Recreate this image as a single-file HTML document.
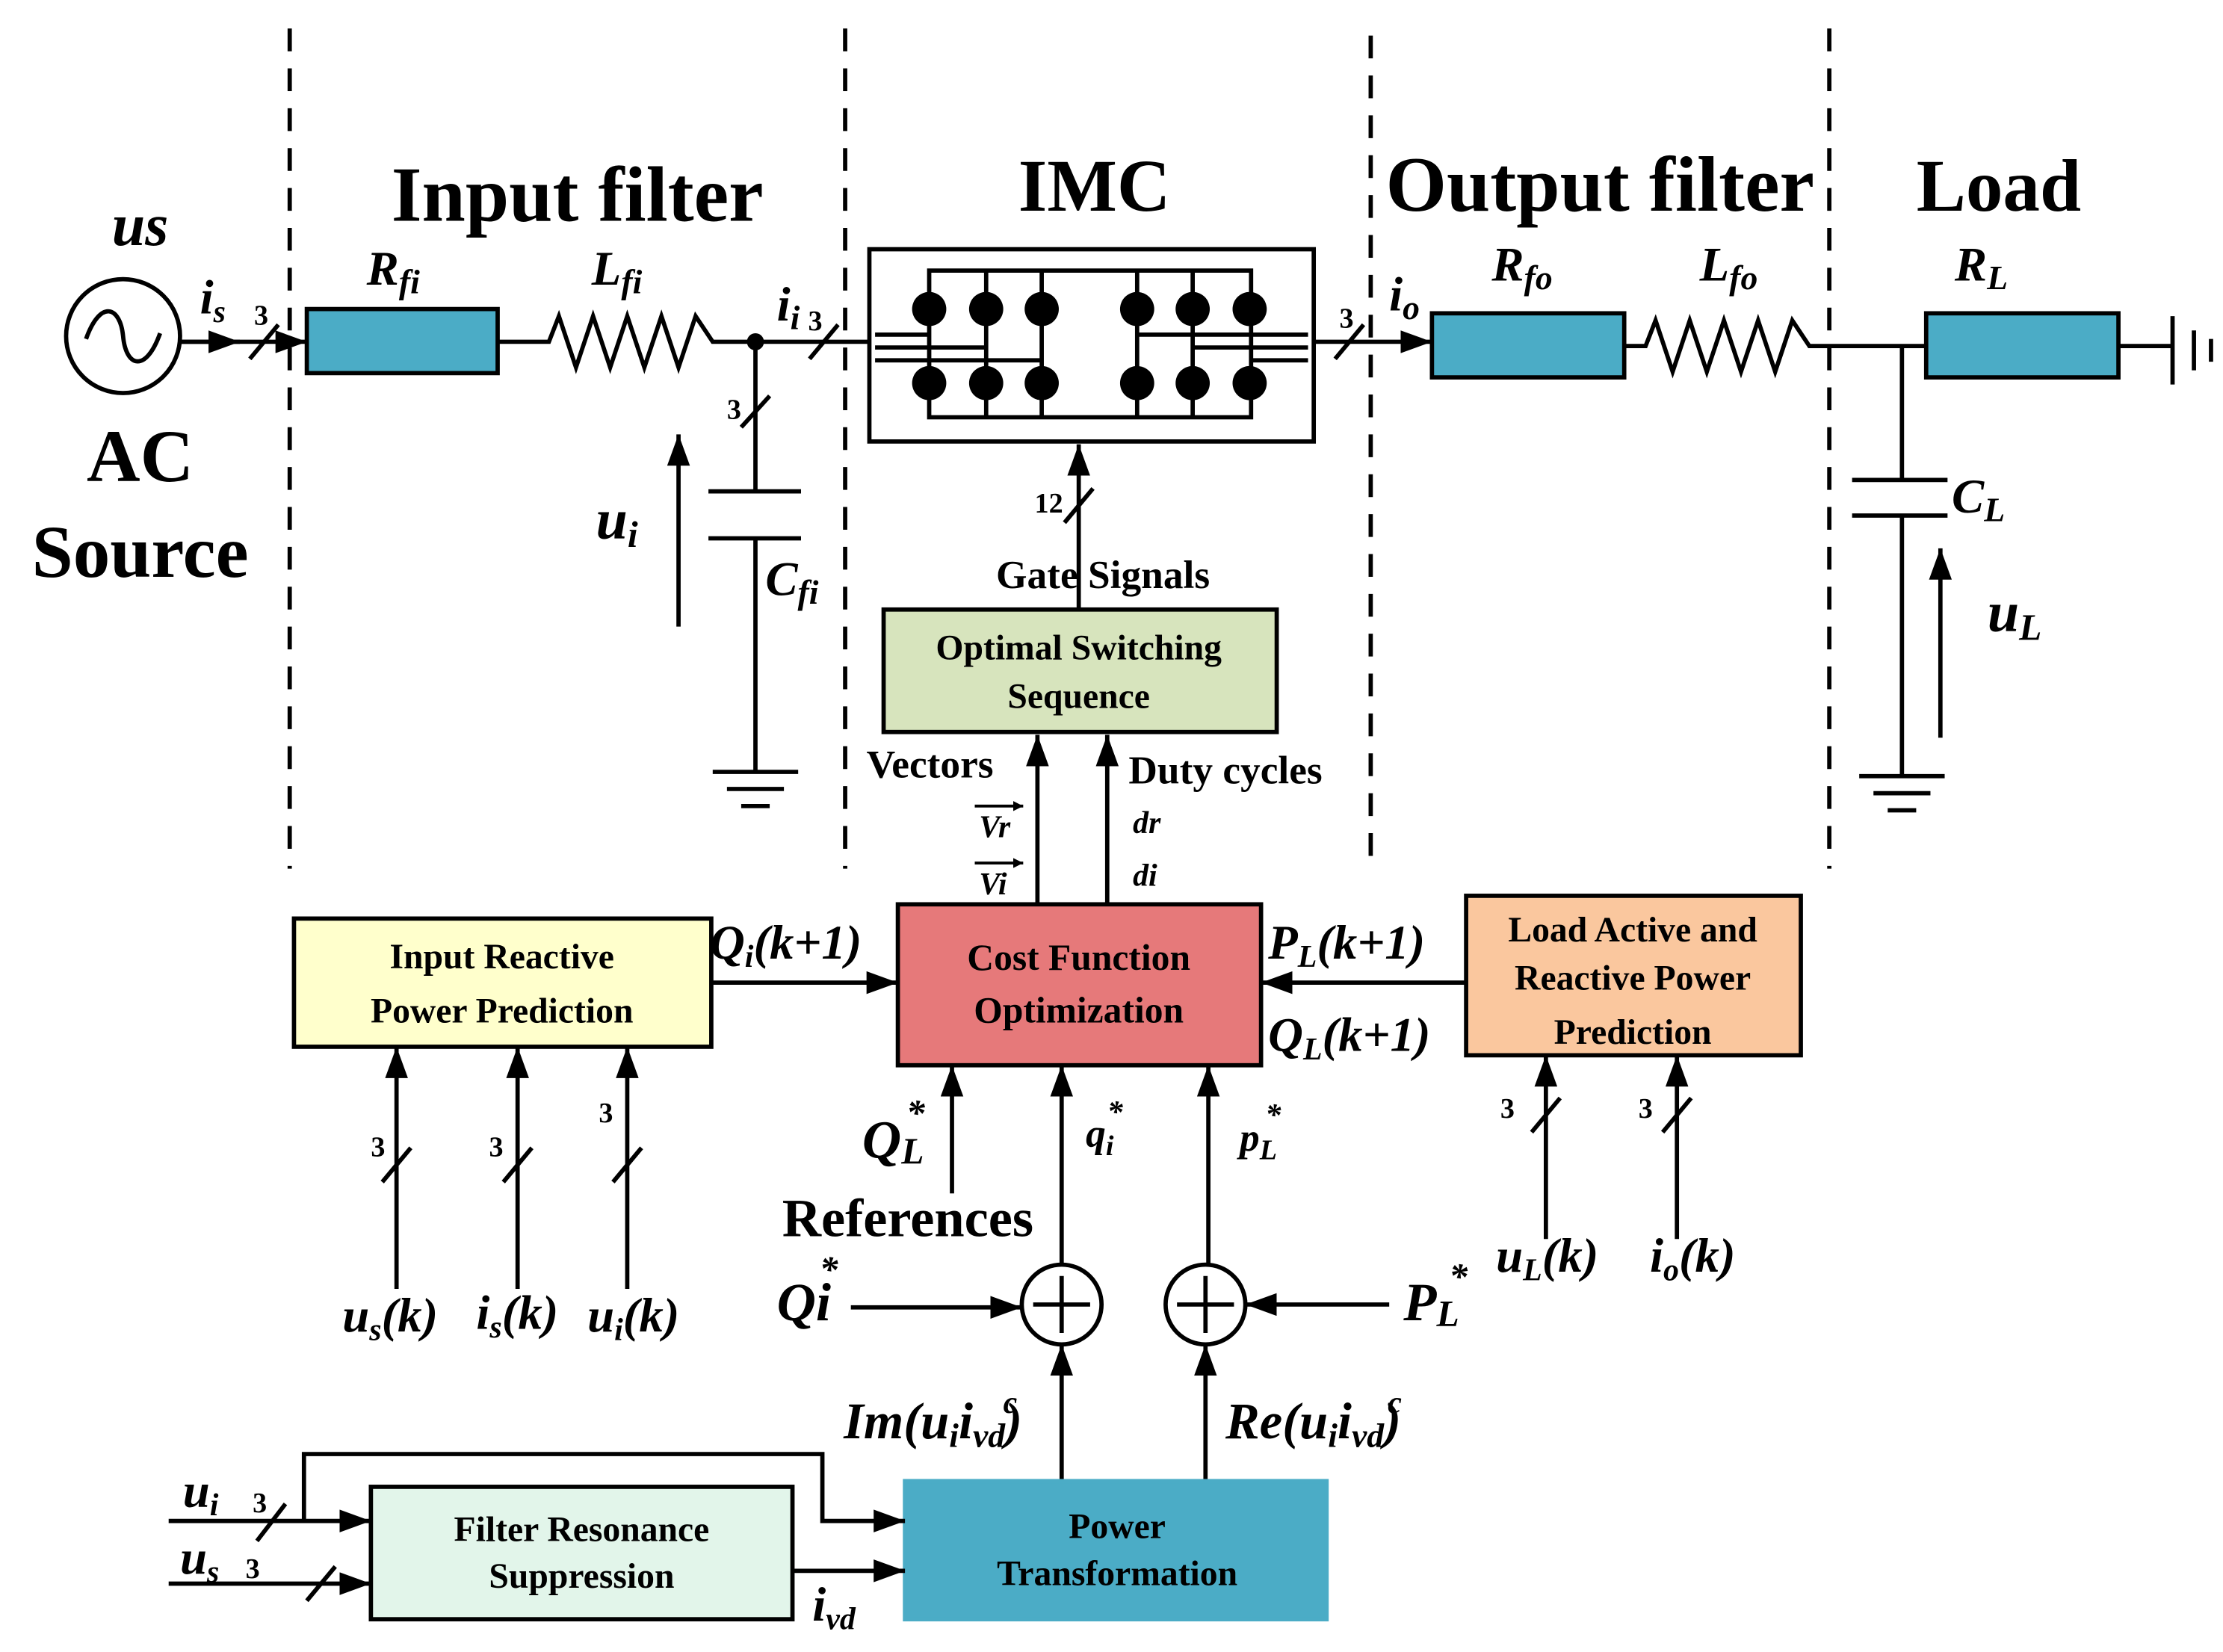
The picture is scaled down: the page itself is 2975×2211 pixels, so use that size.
<!DOCTYPE html>
<html><head><meta charset="utf-8"><style>
html,body{margin:0;padding:0;background:#fff}
svg{display:block}
text{font-family:"Liberation Serif",serif;font-weight:bold;fill:#000}
.i{font-style:italic}
</style></head><body>
<svg width="2975" height="2211" viewBox="0 0 1560 1160" xmlns="http://www.w3.org/2000/svg">
<defs>
<marker id="a" viewBox="0 0 10 10" refX="10" refY="5" markerWidth="7" markerHeight="7" markerUnits="userSpaceOnUse" orient="auto">
<path d="M0,0 L10,5 L0,10 z" fill="#000"/></marker>
<marker id="b" viewBox="0 0 10 10" refX="10" refY="5" markerWidth="22" markerHeight="16" markerUnits="userSpaceOnUse" orient="auto" preserveAspectRatio="none">
<path d="M0,0 L10,5 L0,10 z" fill="#000"/></marker>
</defs>
<g stroke="#000" stroke-width="3" fill="none">
<g stroke-dasharray="16,12">
<line x1="203" y1="20" x2="203" y2="610"/><line x1="593" y1="20" x2="593" y2="610"/>
<line x1="962" y1="25" x2="962" y2="610"/><line x1="1284" y1="20" x2="1284" y2="610"/>
</g>
<circle cx="86" cy="236" r="40"/>
<path d="M60,238 C70,210 84,215 86,236 C88,258 102,262 112,234"/>
<line x1="126" y1="240" x2="215" y2="240" marker-end="url(#b)"/>
<line x1="126" y1="240" x2="168" y2="240" marker-end="url(#b)"/>
<line x1="175" y1="252" x2="195" y2="228"/>
<rect x="215" y="217" width="134" height="45" fill="#4BACC6"/>
<polyline points="349,240 385,240 392,222 404,258 416,222 428,258 440,222 452,258 464,222 476,258 488,222 500,240 530,240 610,240"/>
<line x1="568" y1="252" x2="588" y2="228"/>
<line x1="530" y1="240" x2="530" y2="345"/>
<line x1="520" y1="300" x2="540" y2="278"/>
<line x1="497" y1="345" x2="562" y2="345"/><line x1="497" y1="378" x2="562" y2="378"/>
<line x1="530" y1="378" x2="530" y2="542"/>
<line x1="500" y1="542" x2="560" y2="542"/><line x1="510" y1="554" x2="550" y2="554"/><line x1="520" y1="566" x2="540" y2="566"/>
<line x1="476" y1="440" x2="476" y2="305" marker-end="url(#b)"/>
<rect x="610" y="175" width="312" height="135"/>
<rect x="652" y="190" width="226" height="103"/>
<line x1="731" y1="190" x2="731" y2="293"/><line x1="692" y1="190" x2="692" y2="293"/>
<line x1="798" y1="190" x2="798" y2="293"/><line x1="837" y1="190" x2="837" y2="293"/>
<line x1="614" y1="235" x2="652" y2="235"/><line x1="614" y1="244" x2="692" y2="244"/><line x1="614" y1="253" x2="731" y2="253"/>
<line x1="798" y1="235" x2="918" y2="235"/><line x1="837" y1="244" x2="918" y2="244"/><line x1="877" y1="253" x2="918" y2="253"/>
<line x1="922" y1="240" x2="1005" y2="240" marker-end="url(#b)"/>
<line x1="937" y1="252" x2="957" y2="228"/>
<rect x="1005" y="220" width="135" height="45" fill="#4BACC6"/>
<polyline points="1140,243 1155,243 1162,225 1174,261 1186,225 1198,261 1210,225 1222,261 1234,225 1246,261 1258,225 1270,243 1352,243"/>
<rect x="1352" y="220" width="135" height="45" fill="#4BACC6"/>
<line x1="1487" y1="243" x2="1525" y2="243"/>
<line x1="1525" y1="222" x2="1525" y2="270"/><line x1="1540" y1="232" x2="1540" y2="260"/><line x1="1552" y1="238" x2="1552" y2="254"/>
<line x1="1335" y1="243" x2="1335" y2="337"/>
<line x1="1300" y1="337" x2="1367" y2="337"/><line x1="1300" y1="362" x2="1367" y2="362"/>
<line x1="1335" y1="362" x2="1335" y2="545"/>
<line x1="1305" y1="545" x2="1365" y2="545"/><line x1="1315" y1="557" x2="1355" y2="557"/><line x1="1325" y1="569" x2="1345" y2="569"/>
<line x1="1362" y1="518" x2="1362" y2="385" marker-end="url(#b)"/>
<line x1="757" y1="428" x2="757" y2="312" marker-end="url(#b)"/>
<line x1="747" y1="367" x2="767" y2="343"/>
<rect x="620" y="428" width="276" height="86" fill="#D7E4BD"/>
<line x1="728" y1="635" x2="728" y2="516" marker-end="url(#b)"/>
<line x1="777" y1="635" x2="777" y2="516" marker-end="url(#b)"/>
<line x1="684" y1="566" x2="718" y2="566" marker-end="url(#a)" stroke-width="2"/>
<line x1="684" y1="606" x2="718" y2="606" marker-end="url(#a)" stroke-width="2"/>
<rect x="630" y="635" width="255" height="113" fill="#E6797A"/>
<rect x="206" y="645" width="293" height="90" fill="#FFFFCC"/>
<line x1="499" y1="690" x2="630" y2="690" marker-end="url(#b)"/>
<rect x="1029" y="629" width="235" height="112" fill="#FAC79E"/>
<line x1="1029" y1="690" x2="885" y2="690" marker-end="url(#b)"/>
<line x1="278" y1="905" x2="278" y2="735" marker-end="url(#b)"/>
<line x1="363" y1="905" x2="363" y2="735" marker-end="url(#b)"/>
<line x1="440" y1="905" x2="440" y2="735" marker-end="url(#b)"/>
<line x1="268" y1="830" x2="288" y2="806"/><line x1="353" y1="830" x2="373" y2="806"/><line x1="430" y1="830" x2="450" y2="806"/>
<line x1="1085" y1="870" x2="1085" y2="741" marker-end="url(#b)"/>
<line x1="1177" y1="870" x2="1177" y2="741" marker-end="url(#b)"/>
<line x1="1075" y1="795" x2="1095" y2="771"/><line x1="1167" y1="795" x2="1187" y2="771"/>
<line x1="668" y1="838" x2="668" y2="748" marker-end="url(#b)"/>
<line x1="745" y1="888" x2="745" y2="748" marker-end="url(#b)"/>
<line x1="848" y1="888" x2="848" y2="748" marker-end="url(#b)"/>
<circle cx="745" cy="916" r="28"/><circle cx="846" cy="916" r="28"/>
<line x1="725" y1="916" x2="765" y2="916"/><line x1="745" y1="896" x2="745" y2="936"/>
<line x1="826" y1="916" x2="866" y2="916"/><line x1="846" y1="896" x2="846" y2="936"/>
<line x1="597" y1="918" x2="717" y2="918" marker-end="url(#b)"/>
<line x1="975" y1="916" x2="874" y2="916" marker-end="url(#b)"/>
<line x1="745" y1="1040" x2="745" y2="944" marker-end="url(#b)"/>
<line x1="846" y1="1040" x2="846" y2="944" marker-end="url(#b)"/>
<rect x="635" y="1040" width="296" height="97" fill="#4BACC6" stroke="#4BACC6"/>
<rect x="260" y="1044" width="296" height="93" fill="#E2F5EA"/>
<line x1="118" y1="1068" x2="260" y2="1068" marker-end="url(#b)"/>
<line x1="180" y1="1082" x2="200" y2="1056"/>
<polyline points="213,1068 213,1021 577,1021 577,1068 635,1068" marker-end="url(#b)"/>
<line x1="118" y1="1112" x2="260" y2="1112" marker-end="url(#b)"/>
<line x1="215" y1="1124" x2="235" y2="1100"/>
<line x1="556" y1="1103" x2="635" y2="1103" marker-end="url(#b)"/>
</g>
<circle cx="530" cy="240" r="6" fill="#000"/>
<g fill="#000">
<ellipse cx="652" cy="217" rx="12" ry="12"/><ellipse cx="692" cy="217" rx="12" ry="12"/><ellipse cx="731" cy="217" rx="12" ry="12"/>
<ellipse cx="798" cy="217" rx="12" ry="12"/><ellipse cx="837" cy="217" rx="12" ry="12"/><ellipse cx="877" cy="217" rx="12" ry="12"/>
<ellipse cx="652" cy="269" rx="12" ry="12"/><ellipse cx="692" cy="269" rx="12" ry="12"/><ellipse cx="731" cy="269" rx="12" ry="12"/>
<ellipse cx="798" cy="269" rx="12" ry="12"/><ellipse cx="837" cy="269" rx="12" ry="12"/><ellipse cx="877" cy="269" rx="12" ry="12"/>
</g>
<g text-anchor="middle">
<text x="405" y="155" font-size="55">Input filter</text>
<text x="768" y="148" font-size="52">IMC</text>
<text x="1123" y="148" font-size="55">Output filter</text>
<text x="1403" y="148" font-size="52">Load</text>
<text x="98" y="338" font-size="52">AC</text>
<text x="98" y="405" font-size="52">Source</text>
<text x="98" y="172" font-size="42" class="i">us</text>
<text x="774" y="413" font-size="28">Gate Signals</text>
<text x="757" y="463" font-size="25">Optimal Switching</text>
<text x="757" y="497" font-size="25">Sequence</text>
<text x="757" y="681" font-size="26">Cost Function</text>
<text x="757" y="718" font-size="26">Optimization</text>
<text x="352" y="680" font-size="25">Input Reactive</text>
<text x="352" y="718" font-size="25">Power Prediction</text>
<text x="1146" y="661" font-size="25">Load Active and</text>
<text x="1146" y="695" font-size="25">Reactive Power</text>
<text x="1146" y="733" font-size="25">Prediction</text>
<text x="784" y="1080" font-size="25">Power</text>
<text x="784" y="1113" font-size="25">Transformation</text>
<text x="408" y="1082" font-size="25">Filter Resonance</text>
<text x="408" y="1115" font-size="25">Suppression</text>
<text x="637" y="868" font-size="38">References</text>
</g>
<g class="i" font-size="34">
<text x="140" y="220" class="i">i<tspan font-size="22" dy="6">s</tspan></text>
<text x="257" y="200" class="i">R<tspan font-size="24" dy="6">fi</tspan></text>
<text x="415" y="200" class="i">L<tspan font-size="24" dy="6">fi</tspan></text>
<text x="545" y="225" class="i">i<tspan font-size="24" dy="6">i</tspan></text>
<text x="537" y="418" class="i">C<tspan font-size="24" dy="6">fi</tspan></text>
<text x="418" y="378" class="i" font-size="40">u<tspan font-size="26" dy="6">i</tspan></text>
<text x="975" y="218" class="i">i<tspan font-size="24" dy="6">o</tspan></text>
<text x="1047" y="197" class="i">R<tspan font-size="24" dy="6">fo</tspan></text>
<text x="1193" y="197" class="i">L<tspan font-size="24" dy="6">fo</tspan></text>
<text x="1372" y="197" class="i">R<tspan font-size="24" dy="6">L</tspan></text>
<text x="1370" y="360" class="i">C<tspan font-size="24" dy="6">L</tspan></text>
<text x="1395" y="443" class="i" font-size="40">u<tspan font-size="26" dy="6">L</tspan></text>
<text x="498" y="673" class="i">Q<tspan font-size="22" dy="6">i</tspan><tspan dy="-6">(k+1)</tspan></text>
<text x="890" y="673" class="i">P<tspan font-size="22" dy="6">L</tspan><tspan dy="-6">(k+1)</tspan></text>
<text x="890" y="738" class="i">Q<tspan font-size="22" dy="6">L</tspan><tspan dy="-6">(k+1)</tspan></text>
<text x="240" y="935" class="i">u<tspan font-size="22" dy="6">s</tspan><tspan dy="-6">(k)</tspan></text>
<text x="334" y="933" class="i">i<tspan font-size="22" dy="6">s</tspan><tspan dy="-6">(k)</tspan></text>
<text x="412" y="935" class="i">u<tspan font-size="22" dy="6">i</tspan><tspan dy="-6">(k)</tspan></text>
<text x="1050" y="893" class="i">u<tspan font-size="22" dy="6">L</tspan><tspan dy="-6">(k)</tspan></text>
<text x="1158" y="893" class="i">i<tspan font-size="22" dy="6">o</tspan><tspan dy="-6">(k)</tspan></text>
<text x="605" y="813" class="i" font-size="38">Q<tspan font-size="26" dy="4">L</tspan></text>
<text x="636" y="790" font-size="26">*</text>
<text x="762" y="805" class="i" font-size="28">q<tspan font-size="20" dy="6">i</tspan></text>
<text x="777" y="788" font-size="22">*</text>
<text x="870" y="808" class="i" font-size="28">p<tspan font-size="20" dy="6">L</tspan></text>
<text x="888" y="790" font-size="22">*</text>
<text x="545" y="927" class="i" font-size="38">Qi</text>
<text x="575" y="900" font-size="26">*</text>
<text x="985" y="927" class="i" font-size="38">P<tspan font-size="26" dy="4">L</tspan></text>
<text x="1017" y="905" font-size="26">*</text>
<text x="592" y="1010" class="i" font-size="36">Im(u<tspan font-size="24" dy="6">i</tspan><tspan dy="-6">i</tspan><tspan font-size="24" dy="6">vd</tspan><tspan dy="-6">)</tspan></text>
<text x="704" y="992" font-size="22" class="i">c</text>
<text x="860" y="1010" class="i" font-size="36">Re(u<tspan font-size="24" dy="6">i</tspan><tspan dy="-6">i</tspan><tspan font-size="24" dy="6">vd</tspan><tspan dy="-6">)</tspan></text>
<text x="974" y="992" font-size="22" class="i">c</text>
<text x="128" y="1058" class="i">u<tspan font-size="22" dy="6">i</tspan></text>
<text x="126" y="1105" class="i">u<tspan font-size="22" dy="6">s</tspan></text>
<text x="570" y="1138" class="i">i<tspan font-size="22" dy="6">vd</tspan></text>
<text x="687" y="588" class="i" font-size="22">Vr</text>
<text x="687" y="628" class="i" font-size="22">Vi</text>
<text x="795" y="585" class="i" font-size="22">dr</text>
<text x="795" y="622" class="i" font-size="22">di</text>
</g>
<g font-size="28">
<text x="608" y="546">Vectors</text>
<text x="792" y="550">Duty cycles</text>
</g>
<g font-size="20">
<text x="178" y="228">3</text><text x="567" y="232">3</text><text x="510" y="294">3</text>
<text x="940" y="230">3</text><text x="726" y="360">12</text>
<text x="260" y="812">3</text><text x="343" y="812">3</text><text x="420" y="788">3</text>
<text x="1053" y="785">3</text><text x="1150" y="785">3</text>
<text x="177" y="1062">3</text><text x="172" y="1108">3</text>
</g>
</svg>
</body></html>
